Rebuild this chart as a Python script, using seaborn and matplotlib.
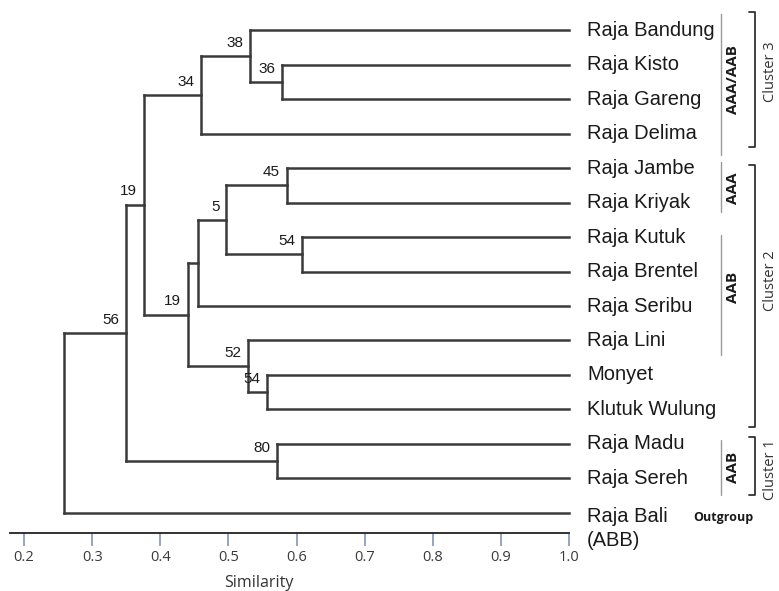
"""
Dendrogram of banana cultivars (similarity, bootstrap values on nodes)
"""

import matplotlib.pyplot as plt
import matplotlib.transforms as mtransforms
import seaborn as sns

# leaves, top to bottom
LEAVES = [
    "Raja Bandung", "Raja Kisto", "Raja Gareng", "Raja Delima",
    "Raja Jambe", "Raja Kriyak", "Raja Kutuk", "Raja Brentel",
    "Raja Seribu", "Raja Lini", "Monyet", "Klutuk Wulung",
    "Raja Madu", "Raja Sereh", "Raja Bali\n(ABB)",
]

# merges: children ids (leaves 0..14, new nodes numbered from 15), similarity, bootstrap
MERGE_LEFT = [1, 0, 16, 4, 6, 18, 20, 10, 9, 21, 17, 12, 25, 27]
MERGE_RIGHT = [2, 15, 3, 5, 7, 19, 8, 11, 22, 23, 24, 13, 26, 14]
MERGE_SIM = [0.579, 0.532, 0.460, 0.586, 0.608, 0.497, 0.455,
             0.557, 0.529, 0.441, 0.376, 0.572, 0.350, 0.259]
BOOTSTRAP = ["36", "38", "34", "45", "54", "5", "",
             "54", "52", "19", "19", "80", "56", ""]

X_TICKS = [0.2, 0.3, 0.4, 0.5, 0.6, 0.7, 0.8, 0.9, 1.0]

# side brackets: (label, first leaf edge, last leaf edge, label centre)
GENOME_GROUPS = [
    ("AAA/AAB", -0.45, 3.62, 1.45),
    ("AAA", 3.83, 5.28, 4.58),
    ("AAB", 5.94, 9.42, 7.45),
    ("AAB", 11.88, 13.48, 12.67),
]
CLUSTERS = [
    ("Cluster 3", -0.52, 3.39, 1.22),
    ("Cluster 2", 3.91, 11.5, 7.28),
    ("Cluster 1", 11.8, 13.48, 12.75),
]

LINE_COLOR = "#3a3a3a"
TEXT_COLOR = "#1a1a1a"
SANS2 = ["Open Sans", "DejaVu Sans"]

sns.set_theme(style="white")
plt.rcParams["font.family"] = ["Liberation Sans", "DejaVu Sans"]

W, H = 779, 591
fig = plt.figure(figsize=(W / 100, H / 100), dpi=100)
# axis spans pixel x 10..569 (similarity 0.179..1.0), bottom spine at y=533
ax = fig.add_axes([10 / W, (H - 533) / H, 559 / W, 533 / H])
ax.set_xlim(0.2 - 14 / 681, 1.0)
ax.set_ylim(14.58, -0.87)

# node positions
pos_x = {i: 1.0 for i in range(len(LEAVES))}
pos_y = {i: float(i) for i in range(len(LEAVES))}
for k, (a, b, s, bs) in enumerate(zip(MERGE_LEFT, MERGE_RIGHT, MERGE_SIM, BOOTSTRAP)):
    node = len(LEAVES) + k
    pos_x[node] = s
    pos_y[node] = (pos_y[a] + pos_y[b]) / 2
    ax.plot([s, s], [pos_y[a], pos_y[b]], color=LINE_COLOR, lw=1.8,
            solid_capstyle="projecting", clip_on=False)
    for c in (a, b):
        ax.plot([s, pos_x[c]], [pos_y[c], pos_y[c]], color=LINE_COLOR, lw=1.8,
                solid_capstyle="projecting", clip_on=False)
    if bs:
        ax.annotate(bs, (s, pos_y[node]), xytext=(-5, 9.5), textcoords="offset points",
                    ha="right", va="center", fontsize=11, color=TEXT_COLOR)

for i, name in enumerate(LEAVES):
    two_lines = "\n" in name
    ax.annotate(name, (1.0, i), xytext=(13, 4 if two_lines else 0),
                textcoords="offset points", ha="left",
                va="top" if two_lines else "center", linespacing=1.3,
                fontsize=14.5, color=TEXT_COLOR, annotation_clip=False)

# axis
ax.set_xticks(X_TICKS)
ax.set_xticklabels([f"{t:.1f}" for t in X_TICKS], family=SANS2,
                   fontsize=10.5, color="#3a3a3a")
ax.set_yticks([])
ax.tick_params(axis="x", direction="out", length=9, width=1.2, color="#8496b0",
               pad=3, bottom=True)
sns.despine(ax=ax, left=True, top=True, right=True)
ax.spines["bottom"].set_color("#222222")
ax.spines["bottom"].set_linewidth(1.3)
ax.set_xlabel("Similarity", family=SANS2, fontsize=11.5, color="#333333", va="center")
ax.xaxis.set_label_coords((259 - 10) / 559, -0.094)

# right-hand brackets (x in axes fraction, y in leaf units)
trans = mtransforms.blended_transform_factory(ax.transAxes, ax.transData)
for label, y0, y1, yc in GENOME_GROUPS:
    ax.plot([1.272, 1.272], [y0, y1], color="#9a9a9a", lw=1.0, transform=trans,
            clip_on=False)
    ax.text(1.2935, yc, label, rotation=90, ha="center", va="center", fontsize=11,
            fontweight="bold", family=SANS2, color=TEXT_COLOR, transform=trans)
for label, y0, y1, yc in CLUSTERS:
    ax.plot([1.322, 1.333, 1.333, 1.322], [y0, y0, y1, y1], color="#333333", lw=1.3,
            transform=trans, clip_on=False)
    ax.text(1.36, yc, label, rotation=90, ha="center", va="center", fontsize=10.5,
            family=SANS2, color="#333333", transform=trans)

ax.text(1.2755, 14.12, "Outgroup", ha="center", va="center", fontsize=9,
        fontweight="bold", family=SANS2, color=TEXT_COLOR, transform=trans)

fig.savefig("out.png", dpi=100)
